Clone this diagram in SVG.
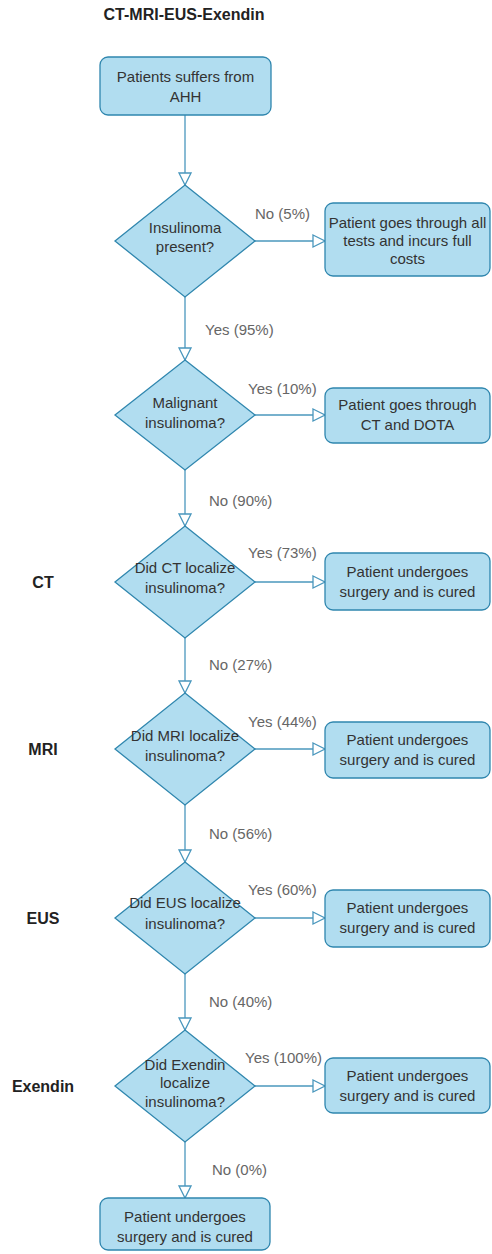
<svg xmlns="http://www.w3.org/2000/svg" width="492" height="1254" viewBox="0 0 492 1254">
  <style>
    .box { fill: #b1ddf0; stroke: #2f86ae; stroke-width: 1.3; }
    .dec { fill: #b1ddf0; stroke: #2f86ae; stroke-width: 1.3; }
    .edge { fill: none; stroke: #4a97bd; stroke-width: 1.3; marker-end: url(#open); }
    .t { font-family: "Liberation Sans", Arial, sans-serif; font-size: 15px; fill: #333; text-anchor: middle; }
    .lbl { font-family: "Liberation Sans", Arial, sans-serif; font-size: 15px; fill: #666; }
    .side { font-family: "Liberation Sans", Arial, sans-serif; font-size: 16px; font-weight: bold; fill: #222; text-anchor: middle; }
  </style>
  <defs>
    <marker id="open" markerUnits="userSpaceOnUse" markerWidth="16" markerHeight="16" refX="13" refY="7" orient="auto">
      <path d="M1,1 L13,7 L1,13 Z" fill="#fff" stroke="#4a97bd" stroke-width="1.3"/>
    </marker>
  </defs>

  <rect width="492" height="1254" fill="#fff"/>

  <!-- title and row captions -->
  <text class="side" x="184" y="20">CT-MRI-EUS-Exendin</text>
  <text class="side" x="43" y="588">CT</text>
  <text class="side" x="43" y="755">MRI</text>
  <text class="side" x="43" y="924">EUS</text>
  <text class="side" x="43" y="1092">Exendin</text>

  <!-- connectors -->
  <g id="connectors">
    <path class="edge" d="M185,115 V185"/>
    <path class="edge" d="M255,241 H325"/>
    <path class="edge" d="M185,297 V360"/>
    <path class="edge" d="M255,415 H325"/>
    <path class="edge" d="M185,470 V526"/>
    <path class="edge" d="M255,582 H325"/>
    <path class="edge" d="M185,638 V693"/>
    <path class="edge" d="M255,749 H325"/>
    <path class="edge" d="M185,805 V862"/>
    <path class="edge" d="M255,918 H325"/>
    <path class="edge" d="M185,974 V1030"/>
    <path class="edge" d="M255,1086 H325"/>
    <path class="edge" d="M185,1142 V1198"/>

    <text class="lbl" x="255" y="219">No (5%)</text>
    <text class="lbl" x="205" y="335">Yes (95%)</text>
    <text class="lbl" x="248" y="394">Yes (10%)</text>
    <text class="lbl" x="209" y="506">No (90%)</text>
    <text class="lbl" x="248" y="558">Yes (73%)</text>
    <text class="lbl" x="209" y="670">No (27%)</text>
    <text class="lbl" x="248" y="727">Yes (44%)</text>
    <text class="lbl" x="209" y="839">No (56%)</text>
    <text class="lbl" x="248" y="895">Yes (60%)</text>
    <text class="lbl" x="209" y="1007">No (40%)</text>
    <text class="lbl" x="245" y="1063">Yes (100%)</text>
    <text class="lbl" x="212" y="1175">No (0%)</text>
  </g>

  <!-- start -->
  <g id="start">
    <rect class="box" x="100" y="57" width="171" height="58" rx="8"/>
    <text class="t" x="185.5" y="82">Patients suffers from</text>
    <text class="t" x="185.5" y="102">AHH</text>
  </g>

  <!-- decision: insulinoma present -->
  <g id="dec-present">
    <polygon class="dec" points="185,185 255,241 185,297 115,241"/>
    <text class="t" x="185" y="233">Insulinoma</text>
    <text class="t" x="185" y="252">present?</text>
  </g>
  <g id="out-full-costs">
    <rect class="box" x="325" y="203" width="165" height="73" rx="8"/>
    <text class="t" x="407.5" y="228">Patient goes through all</text>
    <text class="t" x="407.5" y="246">tests and incurs full</text>
    <text class="t" x="407.5" y="264">costs</text>
  </g>

  <!-- decision: malignant -->
  <g id="dec-malignant">
    <polygon class="dec" points="185,360 255,415 185,470 115,415"/>
    <text class="t" x="185" y="408">Malignant</text>
    <text class="t" x="185" y="428">insulinoma?</text>
  </g>
  <g id="out-ct-dota">
    <rect class="box" x="325" y="388" width="165" height="55" rx="8"/>
    <text class="t" x="407.5" y="410">Patient goes through</text>
    <text class="t" x="407.5" y="430">CT and DOTA</text>
  </g>

  <!-- decision: CT -->
  <g id="dec-ct">
    <polygon class="dec" points="185,526 255,582 185,638 115,582"/>
    <text class="t" x="185" y="573">Did CT localize</text>
    <text class="t" x="185" y="593">insulinoma?</text>
  </g>
  <g id="out-ct">
    <rect class="box" x="325" y="553" width="165" height="57" rx="8"/>
    <text class="t" x="407.5" y="577">Patient undergoes</text>
    <text class="t" x="407.5" y="597">surgery and is cured</text>
  </g>

  <!-- decision: MRI -->
  <g id="dec-mri">
    <polygon class="dec" points="185,693 255,749 185,805 115,749"/>
    <text class="t" x="185" y="741">Did MRI localize</text>
    <text class="t" x="185" y="761">insulinoma?</text>
  </g>
  <g id="out-mri">
    <rect class="box" x="325" y="722" width="165" height="56" rx="8"/>
    <text class="t" x="407.5" y="745">Patient undergoes</text>
    <text class="t" x="407.5" y="765">surgery and is cured</text>
  </g>

  <!-- decision: EUS -->
  <g id="dec-eus">
    <polygon class="dec" points="185,862 255,918 185,974 115,918"/>
    <text class="t" x="185" y="908">Did EUS localize</text>
    <text class="t" x="185" y="929">insulinoma?</text>
  </g>
  <g id="out-eus">
    <rect class="box" x="325" y="890" width="165" height="57" rx="8"/>
    <text class="t" x="407.5" y="913">Patient undergoes</text>
    <text class="t" x="407.5" y="933">surgery and is cured</text>
  </g>

  <!-- decision: Exendin -->
  <g id="dec-exendin">
    <polygon class="dec" points="185,1030 255,1086 185,1142 115,1086"/>
    <text class="t" x="185" y="1070">Did Exendin</text>
    <text class="t" x="185" y="1088">localize</text>
    <text class="t" x="185" y="1107">insulinoma?</text>
  </g>
  <g id="out-exendin">
    <rect class="box" x="325" y="1058" width="165" height="55" rx="8"/>
    <text class="t" x="407.5" y="1081">Patient undergoes</text>
    <text class="t" x="407.5" y="1101">surgery and is cured</text>
  </g>

  <!-- end -->
  <g id="end">
    <rect class="box" x="100" y="1198" width="170" height="52" rx="8"/>
    <text class="t" x="185" y="1222">Patient undergoes</text>
    <text class="t" x="185" y="1242">surgery and is cured</text>
  </g>
</svg>
